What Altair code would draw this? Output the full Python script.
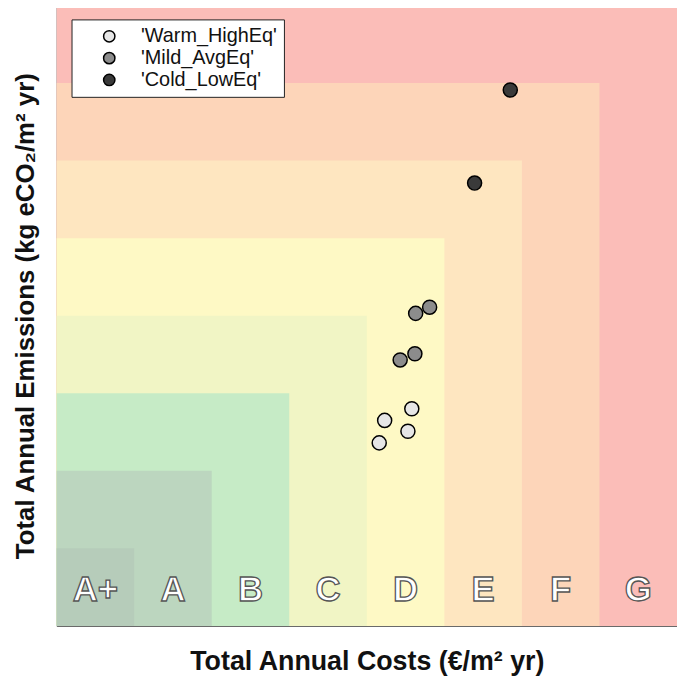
import altair as alt
import pandas as pd

grades = ["A+", "A", "B", "C", "D", "E", "F", "G"]
grade_sizes = [1, 2, 3, 4, 5, 6, 7, 8]
grade_colors = ["#b6ccba", "#bcd6bf", "#c6ebc6", "#f1f5c5", "#fef9c5", "#fee6c0", "#fdd5b9", "#fbbdb8"]

series_names = ["'Warm_HighEq'", "'Mild_AvgEq'", "'Cold_LowEq'"]
series_colors = ["#e6e6e6", "#8c8c8c", "#3a3a3a"]

warm_x = [4.58, 4.23, 4.53, 4.16]
warm_y = [2.80, 2.65, 2.51, 2.36]
mild_x = [4.81, 4.63, 4.62, 4.43]
mild_y = [4.11, 4.03, 3.51, 3.43]
cold_x = [5.85, 5.39]
cold_y = [6.91, 5.71]

rects = pd.DataFrame({
    "grade": grades[::-1],
    "size": grade_sizes[::-1],
    "zero": [0] * len(grades),
})
labels = pd.DataFrame({
    "grade": grades,
    "cx": [i + 0.5 for i in range(len(grades))],
    "cy": [0.32] * len(grades),
})
pts = pd.DataFrame({
    "x": warm_x + mild_x + cold_x,
    "y": warm_y + mild_y + cold_y,
    "series": [series_names[0]] * 4 + [series_names[1]] * 4 + [series_names[2]] * 2,
})

xs = alt.Scale(domain=[0, 8], nice=False, zero=True)
ys = alt.Scale(domain=[0, 8], nice=False, zero=True)

xaxis = alt.Axis(title="Total Annual Costs (€/m² yr)", labels=False, ticks=False, grid=False, domain=False,
                 titleFont="Liberation Sans", titleFontSize=27, titleFontWeight="bold", titleColor="#111",
                 titlePadding=23)
yaxis = alt.Axis(title="Total Annual Emissions (kg eCO₂/m² yr)", labels=False, ticks=False, grid=False, domain=False,
                 titleFont="Liberation Sans", titleFontSize=26, titleFontWeight="bold", titleColor="#111",
                 titlePadding=18)

bg = alt.Chart(rects).mark_rect().encode(
    x=alt.X("zero:Q", scale=xs, axis=xaxis),
    x2="size:Q",
    y=alt.Y("zero:Q", scale=ys, axis=yaxis),
    y2="size:Q",
    color=alt.Color("grade:N", scale=alt.Scale(domain=grades, range=grade_colors), legend=None),
)

txt = alt.Chart(labels).mark_text(
    font="Liberation Sans", fontSize=35, fontWeight="bold", fill="white", stroke="#555555", strokeWidth=1.3,
    baseline="alphabetic", align="center"
).encode(
    x=alt.X("cx:Q", scale=xs),
    y=alt.Y("cy:Q", scale=ys),
    text="grade:N",
)

points = alt.Chart(pts).mark_point(filled=True, size=200, stroke="black", strokeWidth=1.5, opacity=1).encode(
    x=alt.X("x:Q", scale=xs),
    y=alt.Y("y:Q", scale=ys),
    fill=alt.Fill("series:N", scale=alt.Scale(domain=series_names, range=series_colors),
                  legend=alt.Legend(title=None, orient="none", legendX=15, legendY=14,
                                    fillColor="white", strokeColor="#222", padding=7,
                                    labelFont="Liberation Sans", labelFontSize=20, labelColor="#111",
                                    symbolType="circle", symbolSize=130, symbolStrokeColor="black",
                                    symbolStrokeWidth=1.5, symbolOffset=21, labelOffset=22,
                                    rowPadding=2, labelLimit=300)),
)

chart = alt.layer(bg, txt, points).properties(
    width=625, height=625,
    autosize=alt.AutoSizeParams(type="none"),
    padding={"left": 49, "top": -5, "right": 0, "bottom": 50},
).configure_view(stroke="#555555", strokeWidth=1)

chart.save("out.html", embed_options={"renderer": "svg", "actions": False})
